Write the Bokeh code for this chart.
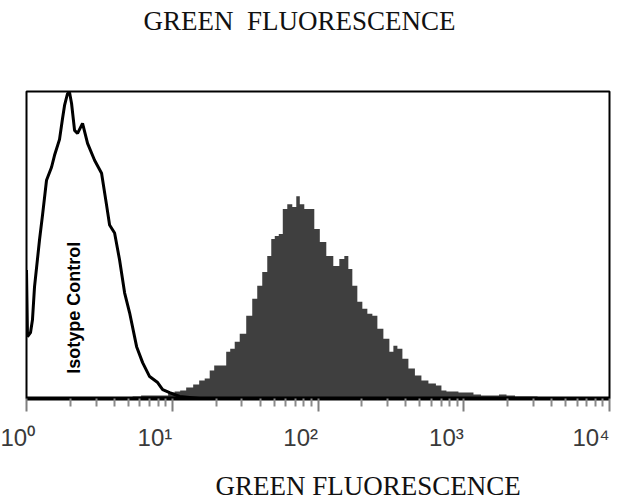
import math
from bokeh.plotting import figure
from bokeh.models import Range1d, FixedTicker, Label, Title, LogAxis, ColumnDataSource
from bokeh.embed import file_html
from bokeh.resources import INLINE

# ---------------- data ----------------
isotype_x = [1.0, 1.016, 1.065, 1.099, 1.135, 1.228, 1.288, 1.372, 1.485, 1.557,
             1.685, 1.767, 1.824, 1.912, 1.974, 2.038, 2.137, 2.240, 2.424, 2.624,
             2.931, 3.274, 3.543, 3.716, 4.022, 4.352, 4.711, 5.099, 5.695, 6.262,
             6.995, 7.940, 8.594, 9.597, 11.24, 15.43]
isotype_count = [129, 62, 66, 79, 112, 159, 184, 219, 232, 244,
                 260, 281, 294, 306, 307, 296, 269, 266, 276, 256,
                 239, 226, 194, 174, 166, 139, 106, 86, 52, 36,
                 22, 16, 9, 6, 2, 0]

stained_x = [5.346, 6.995, 8.868, 9.906, 10.89, 11.79, 13.17, 14.71, 15.92, 17.51,
             18.65, 20.18, 22.90, 24.02, 25.99, 27.69, 30.44, 34.01, 36.81, 39.83,
             43.12, 46.67, 48.94, 52.12, 55.54, 59.16, 64.03, 69.30, 72.66, 77.42,
             83.78, 90.66, 98.13, 107.9, 120.5, 134.6, 145.7, 157.7, 165.4, 178.9,
             193.7, 209.6, 226.9, 245.6, 265.8, 296.9, 321.3, 336.9, 364.7, 394.7,
             440.9, 484.7, 541.5, 604.7, 686.4, 719.7, 803.9, 898.0, 941.6, 1103,
             1232, 1398, 1638, 1859, 2077, 2432, 2849, 3612, 4580]
stained_count = [2, 3, 3, 6, 7, 8, 11, 14, 18, 20,
                 28, 33, 33, 47, 50, 57, 65, 83, 100, 113,
                 127, 143, 160, 163, 165, 190, 195, 192, 203, 195,
                 190, 190, 170, 157, 143, 133, 140, 143, 130, 113,
                 97, 90, 85, 83, 70, 60, 47, 53, 50, 40,
                 30, 23, 18, 15, 13, 8, 7, 7, 6, 6,
                 4, 3, 3, 4, 3, 2, 2, 1, 1]

tick_values = [1, 10, 100, 1000, 10000]
tick_labels = ["10\u2070", "10\u00b9", "10\u00b2", "10\u00b3", "10\u2074"]
minor_tick_values = [m * 10 ** k for k in range(4) for m in range(2, 10)]

title_text = "GREEN\u00a0 FLUORESCENCE"
xlabel_text = "GREEN FLUORESCENCE"
isotype_text = "Isotype Control"

# ---------------- layout ----------------
W, H = 618, 501
B_LEFT, B_RIGHT, B_TOP, B_BOTTOM = 26, 9, 91, 102
FRAME_W = W - B_LEFT - B_RIGHT
FRAME_H = H - B_TOP - B_BOTTOM
DECADE = FRAME_W / 4.0
FRAME_BOTTOM = H - B_BOTTOM


def px_to_x(px):
    return 10 ** ((px - B_LEFT) / DECADE)


def py_to_y(py):
    return FRAME_BOTTOM - py


p = figure(width=W, height=H, x_axis_type="log",
           x_range=Range1d(1, 10000), y_range=Range1d(0, FRAME_H),
           output_backend="svg", toolbar_location=None,
           min_border_left=B_LEFT, min_border_right=B_RIGHT,
           min_border_top=B_TOP, min_border_bottom=B_BOTTOM)

p.background_fill_color = "white"
p.border_fill_color = "white"
p.outline_line_color = "black"
p.outline_line_width = 2
p.grid.visible = False
p.yaxis.visible = False

# main (bottom) x axis - grab it before any other axis is added
ax = p.below[0]
ax.ticker = FixedTicker(ticks=tick_values, minor_ticks=minor_tick_values)
ax.major_label_overrides = {float(v): lbl for v, lbl in zip(tick_values, tick_labels)}
ax.major_label_orientation = 0.0001
ax.major_label_standoff = 26
ax.major_label_text_font = "Liberation Sans"
ax.major_label_text_font_size = "24px"
ax.major_label_text_color = "#3a3a3a"
ax.axis_line_color = "black"
ax.axis_line_width = 4
ax.major_tick_in = 0
ax.major_tick_out = 13
ax.minor_tick_in = 0
ax.minor_tick_out = 8
ax.major_tick_line_color = "#7f7f7f"
ax.major_tick_line_width = 2
ax.minor_tick_line_color = "#8a8a8a"
ax.minor_tick_line_width = 2

# invisible spacer between frame and title (keeps the title near the top edge):
# one practically transparent tick, well clear of the title text, with an empty label
spacer = LogAxis(ticker=FixedTicker(ticks=[3000]), axis_line_color=None,
                 major_tick_in=0, major_tick_out=56, major_tick_line_color="white",
                 major_tick_line_alpha=0.01,
                 minor_tick_in=0, minor_tick_out=0, minor_tick_line_color=None,
                 major_label_overrides={3000.0: ""}, major_label_standoff=0,
                 major_label_text_font_size="1px")
p.add_layout(spacer, "above")

# title (top)
p.title.text = title_text
p.title.align = "left"
p.title.offset = 143 - B_LEFT
p.title.vertical_align = "bottom"
p.title.standoff = 0
p.title.text_font = "Liberation Serif"
p.title.text_font_size = "27px"
p.title.text_font_style = "normal"
p.title.text_color = "#111111"

# caption (bottom)
caption = Title(text=xlabel_text, align="left", offset=215 - B_LEFT,
                vertical_align="bottom", standoff=2,
                text_font="Liberation Serif", text_font_size="27px",
                text_font_style="normal", text_color="#111111")
p.add_layout(caption, "below")

# stained population (filled histogram)
src_s = ColumnDataSource(dict(x=stained_x, y1=[0] * len(stained_x), y2=stained_count))
p.varea_step(x="x", y1="y1", y2="y2", step_mode="center", source=src_s,
             fill_color="#3f3f3f")

# isotype control (outline)
src_i = ColumnDataSource(dict(x=isotype_x, y=isotype_count))
p.line(x="x", y="y", source=src_i, line_color="black", line_width=3)

# isotype annotation (inside the frame)
p.add_layout(Label(x=px_to_x(73), y=py_to_y(308), text=isotype_text,
                   angle=math.pi / 2, text_align="center", text_baseline="middle",
                   text_font="Liberation Sans", text_font_style="bold",
                   text_font_size="18px", text_color="black"))

open("out.html", "w").write(file_html(p, INLINE))
